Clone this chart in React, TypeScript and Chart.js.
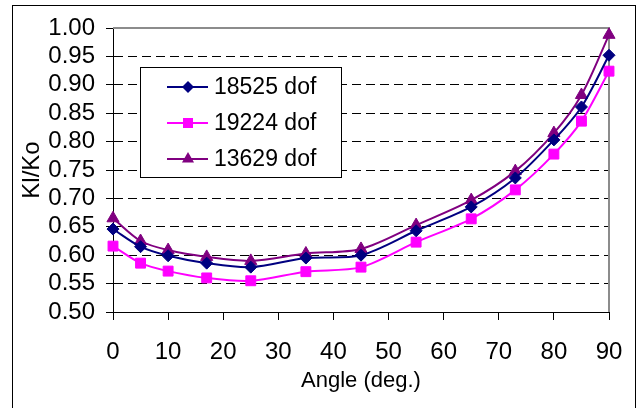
import React, { useEffect, useRef } from "react";
import { Chart, registerables } from "chart.js";

Chart.register(...registerables);

// ---- data ----
const angles = [0, 5, 10, 17, 25, 35, 45, 55, 65, 73, 80, 85, 90];
const dof18525 = [0.646, 0.615, 0.599, 0.586, 0.579, 0.595, 0.6, 0.643, 0.685, 0.736, 0.803, 0.861, 0.952];
const dof19224 = [0.616, 0.586, 0.572, 0.56, 0.555, 0.571, 0.579, 0.623, 0.664, 0.715, 0.778, 0.836, 0.924];
const dof13629 = [0.665, 0.625, 0.609, 0.597, 0.59, 0.603, 0.611, 0.653, 0.697, 0.748, 0.815, 0.882, 0.988];
const seriesLabels = ["18525 dof", "19224 dof", "13629 dof"];
const seriesColors = ["#000080", "#FF00FF", "#800080"];
const seriesMarkers = ["rectRot", "rect", "triangle"];
const xTitle = "Angle (deg.)";
const yTitle = "Kl/Ko";

const FONT = "'Liberation Sans', Arial, Helvetica, sans-serif";

function drawMarker(ctx: CanvasRenderingContext2D, style: string, x: number, y: number, color: string) {
  ctx.save();
  ctx.fillStyle = color;
  ctx.strokeStyle = color;
  ctx.beginPath();
  if (style === "rectRot") {
    const r = 6;
    ctx.moveTo(x - r, y);
    ctx.lineTo(x, y - r);
    ctx.lineTo(x + r, y);
    ctx.lineTo(x, y + r);
  } else if (style === "rect") {
    const h = 5;
    ctx.rect(x - h, y - h, 2 * h, 2 * h);
  } else {
    const r = 7;
    for (let i = 0; i < 3; i++) {
      const a = (i * 2 * Math.PI) / 3;
      const px = x + Math.sin(a) * r;
      const py = y - Math.cos(a) * r;
      if (i === 0) ctx.moveTo(px, py);
      else ctx.lineTo(px, py);
    }
  }
  ctx.closePath();
  ctx.fill();
  ctx.restore();
}

const framePlugin = {
  id: "frame",
  beforeDraw(chart: any) {
    const ctx = chart.ctx as CanvasRenderingContext2D;
    ctx.save();
    ctx.fillStyle = "#ffffff";
    ctx.fillRect(0, 0, chart.width, chart.height);
    ctx.strokeStyle = "#000000";
    ctx.lineWidth = 1;
    ctx.strokeRect(12.5, 5.5, 623, 440);
    ctx.restore();
  },
  beforeDatasetsDraw(chart: any) {
    const ctx = chart.ctx as CanvasRenderingContext2D;
    const { left, top, right, bottom } = chart.chartArea;
    ctx.save();
    ctx.strokeStyle = "#8c8c8c";
    ctx.lineWidth = 2;
    ctx.beginPath();
    ctx.moveTo(left, top);
    ctx.lineTo(right, top);
    ctx.lineTo(right, bottom);
    ctx.stroke();
    ctx.restore();
  },
  afterDatasetsDraw(chart: any) {
    const ctx = chart.ctx as CanvasRenderingContext2D;
    const { left, top } = chart.chartArea;
    const bx = left + 27;
    const by = top + 39;
    const bw = 201;
    const bh = 110;
    ctx.save();
    ctx.fillStyle = "#ffffff";
    ctx.fillRect(bx, by, bw, bh);
    ctx.strokeStyle = "#000000";
    ctx.lineWidth = 1;
    ctx.strokeRect(Math.round(bx) + 0.5, Math.round(by) + 0.5, bw, bh);
    chart.data.datasets.forEach((ds: any, i: number) => {
      const rowY = by + 20 + i * 36;
      ctx.strokeStyle = ds.borderColor;
      ctx.lineWidth = 2;
      ctx.beginPath();
      ctx.moveTo(bx + 27, rowY);
      ctx.lineTo(bx + 68, rowY);
      ctx.stroke();
      drawMarker(ctx, seriesMarkers[i], bx + 48, rowY, ds.borderColor);
      ctx.fillStyle = "#000000";
      ctx.font = `23px ${FONT}`;
      ctx.textBaseline = "middle";
      ctx.textAlign = "left";
      ctx.fillText(ds.label, bx + 74, rowY + 1);
    });
    ctx.restore();
  },
};

export default function App() {
  const canvasRef = useRef<HTMLCanvasElement | null>(null);

  useEffect(() => {
    if (!canvasRef.current) return;
    const series = [dof18525, dof19224, dof13629];
    const datasets = series.map((vals, i) => ({
      label: seriesLabels[i],
      data: angles.map((a, j) => ({ x: a, y: vals[j] })),
      borderColor: seriesColors[i],
      backgroundColor: seriesColors[i],
      borderWidth: 2,
      pointStyle: seriesMarkers[i],
      pointRadius: i === 0 ? 6 : 7,
      pointBorderWidth: 1,
      pointBackgroundColor: seriesColors[i],
      pointBorderColor: seriesColors[i],
      tension: 0.3,
      clip: false as any,
      fill: false,
    }));

    const chart = new Chart(canvasRef.current, {
      type: "line",
      data: { datasets },
      options: {
        animation: false,
        responsive: false,
        maintainAspectRatio: false,
        layout: { padding: { left: 0, top: 28, right: 32, bottom: 0 } },
        plugins: {
          legend: { display: false },
          tooltip: { enabled: false },
        },
        scales: {
          x: {
            type: "linear",
            min: 0,
            max: 90,
            afterFit: (scale: any) => {
              scale.height = 96;
            },
            ticks: {
              stepSize: 10,
              autoSkip: false,
              maxRotation: 0,
              color: "#000",
              padding: 18,
              font: { family: FONT, size: 24 },
            },
            grid: {
              drawOnChartArea: false,
              drawTicks: true,
              tickLength: 8,
              tickColor: "#000",
              tickBorderDash: [],
            },
            border: { display: true, color: "#000", width: 1 },
            title: {
              display: true,
              text: xTitle,
              color: "#000",
              font: { family: FONT, size: 22 },
              padding: { top: 0, bottom: 14 },
            },
          },
          y: {
            type: "linear",
            min: 0.5,
            max: 1.0,
            afterFit: (scale: any) => {
              scale.width = 113;
            },
            ticks: {
              stepSize: 0.05,
              autoSkip: false,
              color: "#000",
              padding: 11,
              font: { family: FONT, size: 24, lineHeight: 1.0 },
              callback: (v: any) => Number(v).toFixed(2),
            },
            grid: {
              drawOnChartArea: true,
              drawTicks: true,
              tickLength: 7,
              tickColor: "#000",
              tickBorderDash: [],
              lineWidth: 1,
              color: (c: any) => {
                const v = c.tick ? c.tick.value : 0;
                return v < 0.501 || v > 0.999 ? "rgba(0,0,0,0)" : "#000";
              },
            },
            border: { display: true, color: "#000", width: 1, dash: [9, 5] },
            title: {
              display: true,
              text: yTitle,
              color: "#000",
              font: { family: FONT, size: 24 },
              padding: { top: 18, bottom: 0 },
            },
          },
        },
      },
      plugins: [framePlugin],
    });
    return () => chart.destroy();
  }, []);

  return (
    <div style={{ position: "fixed", left: 0, top: 0, width: 641, height: 408, background: "#fff" }}>
      <canvas ref={canvasRef} width={641} height={408} style={{ display: "block", width: 641, height: 408 }} />
    </div>
  );
}
